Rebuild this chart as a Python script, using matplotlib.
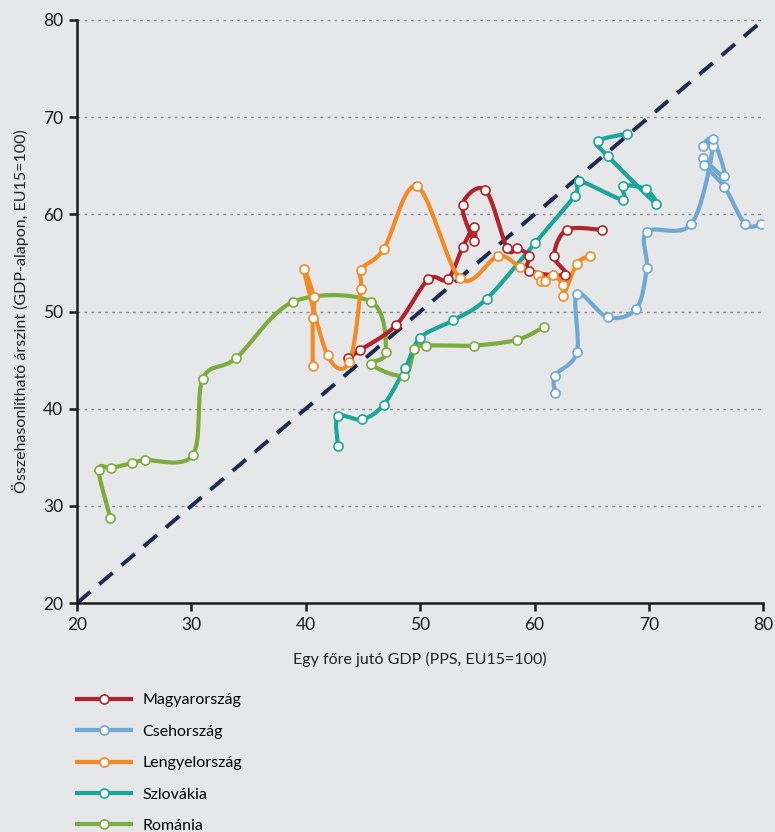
import numpy as np
import matplotlib.pyplot as plt
from matplotlib.lines import Line2D

# Egy főre jutó GDP (x) és összehasonlítható árszint (y), EU15=100
hu_x = [43.7, 44.7, 47.9, 50.7, 52.4, 53.7, 54.7, 54.7, 53.7, 55.7, 57.6, 58.5, 59.5, 59.5, 62.7, 61.7, 62.8, 65.9]
hu_y = [45.2, 46.0, 48.6, 53.3, 53.3, 56.6, 58.7, 57.3, 61.0, 62.5, 56.5, 56.5, 55.7, 54.2, 53.8, 55.7, 58.4, 58.4]

cz_x = [61.8, 61.8, 63.7, 63.7, 66.4, 68.9, 69.8, 69.8, 73.7, 75.6, 74.7, 75.6, 76.6, 74.7, 74.8, 76.6, 78.4, 79.8]
cz_y = [41.6, 43.4, 45.8, 51.8, 49.4, 50.3, 54.5, 58.2, 59.0, 67.0, 67.0, 67.7, 63.9, 65.8, 65.1, 62.8, 59.0, 59.0]

pl_x = [40.6, 40.6, 40.7, 39.8, 41.9, 43.8, 44.8, 44.8, 46.8, 49.7, 53.5, 56.8, 58.7, 60.3, 60.6, 60.9, 61.6, 62.5, 62.5, 63.7, 64.8]
pl_y = [44.4, 49.3, 51.5, 54.4, 45.5, 44.8, 52.3, 54.3, 56.4, 62.9, 53.4, 55.7, 54.6, 53.8, 53.1, 53.1, 53.8, 52.7, 51.6, 54.9, 55.7]

sk_x = [42.8, 42.8, 44.9, 46.8, 48.7, 50.0, 52.9, 55.8, 60.0, 63.5, 63.9, 67.7, 67.7, 69.7, 70.6, 66.4, 65.5, 68.1]
sk_y = [36.2, 39.2, 38.9, 40.4, 44.2, 47.3, 49.1, 51.3, 57.0, 61.9, 63.4, 61.5, 62.9, 62.6, 61.1, 66.0, 67.5, 68.3]

ro_x = [22.9, 21.9, 23.0, 24.8, 25.9, 30.1, 31.0, 33.9, 38.9, 45.7, 47.0, 45.7, 48.6, 49.5, 50.5, 54.7, 58.5, 60.8]
ro_y = [28.8, 33.7, 33.9, 34.4, 34.7, 35.2, 43.1, 45.2, 51.0, 51.0, 45.8, 44.6, 43.4, 46.1, 46.5, 46.5, 47.1, 48.4]

names = ["Magyarország", "Csehország", "Lengyelország", "Szlovákia", "Románia"]
colors = ["#b0242b", "#6fa9d2", "#f28a25", "#1ca59b", "#7dab3d"]


def smooth(x, y, n=20):
    # Excel-szerű simított vonal (Catmull-Rom)
    p = np.column_stack([x, y]).astype(float)
    p = np.vstack([p[0], p, p[-1]])
    t = np.linspace(0, 1, n)[:, None]
    out = []
    for i in range(1, len(p) - 2):
        p0, p1, p2, p3 = p[i - 1], p[i], p[i + 1], p[i + 2]
        b1 = p1 + (p2 - p0) / 6
        b2 = p2 - (p3 - p1) / 6
        seg = (1 - t) ** 3 * p1 + 3 * (1 - t) ** 2 * t * b1 + 3 * (1 - t) * t ** 2 * b2 + t ** 3 * p2
        out.append(seg)
    out = np.vstack(out)
    return out[:, 0], out[:, 1]


bg = "#e6e7e9"
plt.rcParams['font.family'] = ['Lato', 'DejaVu Sans']
fig = plt.figure(figsize=(7.75, 8.32), dpi=100, facecolor=bg)
ax = fig.add_axes([0.0994, 0.2752, 0.8856, 0.7008])
ax.set_facecolor(bg)

ax.plot([20, 80], [20, 80], color="#1c2b4f", lw=2.8, ls=(0, (4.5, 3)), zorder=2)

series = [(ro_x, ro_y, 4), (sk_x, sk_y, 3), (hu_x, hu_y, 0), (cz_x, cz_y, 1), (pl_x, pl_y, 2)]
for xs, ys, k in series:
    sx, sy = smooth(xs, ys)
    ax.plot(sx, sy, color=colors[k], lw=3.0, solid_capstyle="round", zorder=3)
    ax.plot(xs, ys, "o", ms=6.5, mfc="white", mec=colors[k], mew=1.2, zorder=4)

ax.set_xlim(20, 80)
ax.set_ylim(20, 80)
ax.set_xticks(range(20, 81, 10))
ax.set_yticks(range(20, 81, 10))
for y in range(30, 81, 10):
    ax.axhline(y, color="#8a8a8a", lw=1, ls=(0, (2, 3)), zorder=1)

for s in ["top", "right"]:
    ax.spines[s].set_visible(False)
for s in ["left", "bottom"]:
    ax.spines[s].set_linewidth(1.8)
    ax.spines[s].set_color("#1a1a1a")
ax.tick_params(length=6, width=1.8, labelsize=12.5, colors="#1a1a1a", pad=4)

ax.set_xlabel("Egy főre jutó GDP (PPS, EU15=100)", fontsize=11.5, labelpad=14, color="#222222")
ax.set_ylabel("Összehasonlítható árszint (GDP-alapon, EU15=100)", fontsize=11.5, labelpad=10, color="#222222")

handles = [Line2D([], [], color=c, lw=3.0, marker="o", ms=6.5, mfc="white", mec=c, mew=1.2) for c in colors]
ax.legend(handles, names, loc="upper left", bbox_to_anchor=(0.0994, 0.167), bbox_transform=fig.transFigure,
          frameon=False, fontsize=11.5, handlelength=3.4, handletextpad=0.7, labelspacing=1.08,
          borderaxespad=0, borderpad=0)

fig.savefig("out.png", dpi=100, facecolor=bg)
